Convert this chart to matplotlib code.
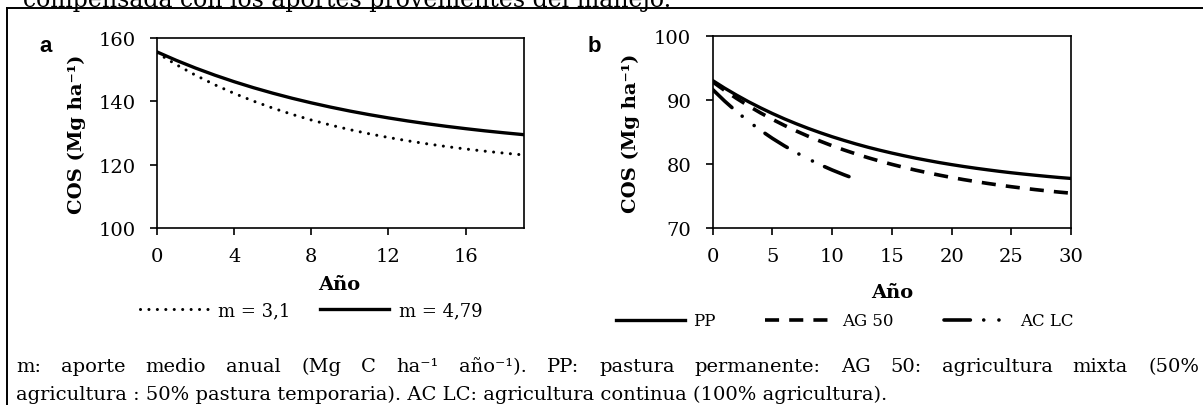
import matplotlib
matplotlib.use('Agg')
import matplotlib.pyplot as plt
from matplotlib.lines import Line2D

# ---------------------------------------------------------------------------
# data
# ---------------------------------------------------------------------------
years_a = list(range(0, 20))
cos_m31 = [155.30, 151.58, 148.24, 145.22, 142.51, 140.07, 137.87, 135.89, 134.10, 132.50,
           131.05, 129.75, 128.58, 127.53, 126.58, 125.72, 124.95, 124.26, 123.64, 123.07]
cos_m479 = [155.60, 152.94, 150.50, 148.26, 146.20, 144.31, 142.58, 140.98, 139.52, 138.17,
            136.93, 135.80, 134.76, 133.80, 132.92, 132.11, 131.37, 130.68, 130.06, 129.48]

years_b = list(range(0, 31))
cos_pp = [93.00, 91.82, 90.73, 89.70, 88.75, 87.86, 87.03, 86.26, 85.54, 84.87, 84.24,
          83.66, 83.11, 82.60, 82.13, 81.69, 81.28, 80.89, 80.54, 80.20, 79.89,
          79.60, 79.33, 79.08, 78.84, 78.62, 78.42, 78.23, 78.05, 77.88, 77.73]
cos_ag50 = [92.80, 91.46, 90.21, 89.05, 87.96, 86.95, 86.01, 85.13, 84.31, 83.55, 82.83,
            82.17, 81.55, 80.97, 80.43, 79.93, 79.46, 79.02, 78.62, 78.24, 77.88,
            77.55, 77.25, 76.96, 76.69, 76.44, 76.21, 75.99, 75.79, 75.60, 75.43]
years_aclc = list(range(0, 13))
cos_aclc = [91.60, 89.80, 88.15, 86.64, 85.25, 83.98, 82.82, 81.75, 80.77, 79.87,
            79.05, 78.30, 77.61]

xticks_a = [0, 4, 8, 12, 16]
yticks_a = [100, 120, 140, 160]
xticks_b = [0, 5, 10, 15, 20, 25, 30]
yticks_b = [70, 80, 90, 100]

top_text = "compensada con los aportes provenientes del manejo."
caption1 = ("m: aporte medio anual (Mg C ha\u207b\u00b9 año\u207b\u00b9). "
            "PP: pastura permanente: AG 50: agricultura mixta (50%")
caption2 = "agricultura : 50% pastura temporaria). AC LC: agricultura continua (100% agricultura)."

# ---------------------------------------------------------------------------
W, H = 1203, 406
plt.rcParams['font.family'] = ['DejaVu Serif']


def fx(px):
    return px / W


def fy(py):
    return 1 - py / H


fig = plt.figure(figsize=(W / 100, H / 100), dpi=100)

ax_a = fig.add_axes([fx(157), fy(229), fx(523.5) - fx(157), fy(39) - fy(229)])
ax_b = fig.add_axes([fx(712.7), fy(229), fx(1071) - fx(712.7), fy(36.7) - fy(229)])

l31, = ax_a.plot(years_a, cos_m31, color='black', lw=2.2,
                 linestyle=(0, (0.01, 2.75)), dash_capstyle='round')
l479, = ax_a.plot(years_a, cos_m479, color='black', lw=2.4)

lpp, = ax_b.plot(years_b, cos_pp, color='black', lw=2.4)
lag, = ax_b.plot(years_b, cos_ag50, color='black', lw=2.6, linestyle=(0, (3.9, 2.8)))
lac, = ax_b.plot(years_aclc, cos_aclc, color='black', lw=2.6,
                 linestyle=(0, (7.3, 3.7, 0.01, 4.2, 0.01, 3.7)), dash_capstyle='round')

ax_a.set_xlim(0, 19)
ax_a.set_ylim(100, 160)
ax_a.set_xticks(xticks_a)
ax_a.set_yticks(yticks_a)
ax_b.set_xlim(0, 30)
ax_b.set_ylim(70, 100)
ax_b.set_xticks(xticks_b)
ax_b.set_yticks(yticks_b)

for ax in (ax_a, ax_b):
    for s in ax.spines.values():
        s.set_linewidth(1.2)
        s.set_color('black')
    ax.tick_params(axis='both', direction='out', length=5, width=1.2,
                   labelsize=14, color='black')
    ax.tick_params(axis='y', pad=10.5)
    ax.tick_params(axis='x', pad=8.5)

# panel letters
fig.text(fx(46), fy(46), 'a', family='Liberation Sans', weight='bold', fontsize=16,
         ha='center', va='center')
fig.text(fx(594), fy(46), 'b', family='Liberation Sans', weight='bold', fontsize=16,
         ha='center', va='center')

# axis titles
ylab = "COS (Mg ha\u207b\u00b9)"
fig.text(fx(76.6), fy(134), ylab, rotation=90, weight='bold', fontsize=14,
         ha='center', va='center')
fig.text(fx(630.7), fy(133), ylab, rotation=90, weight='bold', fontsize=14,
         ha='center', va='center')
fig.text(fx(339), fy(285), 'Año', weight='bold', fontsize=14, ha='center', va='center')
fig.text(fx(892), fy(293), 'Año', weight='bold', fontsize=14, ha='center', va='center')

# legends
fig.legend(handles=[l31, l479], labels=['m = 3,1', 'm = 4,79'], loc='center',
           bbox_to_anchor=(fx(311), fy(311)), ncol=2, frameon=False, fontsize=13,
           handlelength=3.8, handletextpad=0.55, columnspacing=1.65,
           borderpad=0, borderaxespad=0)
fig.legend(handles=[lpp, lag, lac], labels=['PP', 'AG 50', 'AC LC'], loc='center',
           bbox_to_anchor=(fx(845), fy(322)), ncol=3, frameon=False, fontsize=12,
           handlelength=4.1, handletextpad=0.5, columnspacing=3.0,
           borderpad=0, borderaxespad=0)

# box around the figure (right and bottom edges lie outside the crop)
fig.add_artist(Line2D([fx(7), fx(7)], [fy(9), 0], color='black', lw=1.4))
fig.add_artist(Line2D([fx(7), 1], [fy(9), fy(9)], color='black', lw=1.4))

# text of the page above the box, cut at the top
fig.text(fx(23), fy(6.5), top_text, fontsize=17, ha='left', va='baseline')

# caption, first line justified
fig.canvas.draw()
r = fig.canvas.get_renderer()
words = caption1.split(' ')
objs = [fig.text(0, fy(367), w, fontsize=14, ha='left', va='center') for w in words]
widths = [t.get_window_extent(r).width for t in objs]
x0, x1 = 16, 1199
gap = (x1 - x0 - sum(widths)) / (len(words) - 1)
x = x0
for t, w in zip(objs, widths):
    t.set_x(fx(x))
    x += w + gap
fig.text(fx(16), fy(395), caption2, fontsize=14, ha='left', va='center')

fig.savefig('out.png', dpi=100)
